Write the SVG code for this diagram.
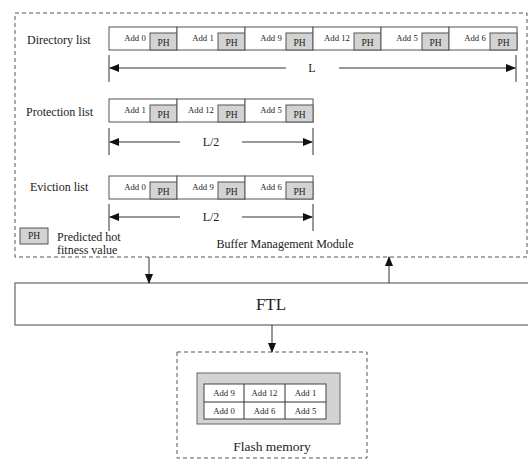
<svg xmlns="http://www.w3.org/2000/svg" width="528" height="459" viewBox="0 0 528 459" font-family="'Liberation Serif','DejaVu Serif',serif">
<style>
text{font-family:'Liberation Serif','DejaVu Serif',serif;fill:#222}
.cell{fill:#fff;stroke:#555;stroke-width:1}
.ph{fill:#d3d3d3;stroke:#555;stroke-width:1}
.t9{font-size:9.5px;text-anchor:middle}
.ad{font-size:8.7px;text-anchor:middle}
.lbl{font-size:12px}
.dash{fill:none;stroke:#555;stroke-width:1;stroke-dasharray:4,3}
.ln{stroke:#333;stroke-width:1;fill:none}
</style>
<defs>
<marker id="ah" markerWidth="10" markerHeight="8" refX="9" refY="4" orient="auto" markerUnits="userSpaceOnUse">
<path d="M0,0 L10,4 L0,8 Z" fill="#111"/>
</marker>
<g id="cellg">
<rect class="cell" x="0" y="0" width="68" height="23"/>
<rect class="ph" x="41" y="6" width="27" height="17"/>
<text class="t9" x="54.5" y="19">PH</text>
</g>
</defs>

<g id="buffer-module">
<rect class="dash" x="15" y="13" width="512" height="244"/>
<text class="lbl" x="285" y="248" text-anchor="middle">Buffer Management Module</text>
</g>

<g id="directory-list">
<text class="lbl" x="27" y="44">Directory list</text>
<use href="#cellg" x="109" y="27"/><text class="ad" x="135" y="41">Add 0</text>
<use href="#cellg" x="177" y="27"/><text class="ad" x="203" y="41">Add 1</text>
<use href="#cellg" x="245" y="27"/><text class="ad" x="271" y="41">Add 9</text>
<use href="#cellg" x="313" y="27"/><text class="ad" x="337" y="41">Add 12</text>
<use href="#cellg" x="381" y="27"/><text class="ad" x="407" y="41">Add 5</text>
<use href="#cellg" x="449" y="27"/><text class="ad" x="475" y="41">Add 6</text>
</g>

<g id="protection-list">
<text class="lbl" x="26" y="116">Protection list</text>
<use href="#cellg" x="109" y="99"/><text class="ad" x="135" y="113">Add 1</text>
<use href="#cellg" x="177" y="99"/><text class="ad" x="201" y="113">Add 12</text>
<use href="#cellg" x="245" y="99"/><text class="ad" x="271" y="113">Add 5</text>
</g>

<g id="eviction-list">
<text class="lbl" x="30" y="191">Eviction list</text>
<use href="#cellg" x="109" y="176"/><text class="ad" x="135" y="190">Add 0</text>
<use href="#cellg" x="177" y="176"/><text class="ad" x="203" y="190">Add 9</text>
<use href="#cellg" x="245" y="176"/><text class="ad" x="271" y="190">Add 6</text>
</g>

<g id="legend">
<rect class="ph" x="20" y="228" width="28" height="16"/>
<text class="t9" x="34" y="239">PH</text>
<text class="lbl" x="57" y="241">Predicted hot</text>
<text class="lbl" x="57" y="254">fitness value</text>
</g>

<g id="ftl">
<rect x="15" y="283" width="520" height="42" fill="#fff" stroke="#666" stroke-width="1.2"/>
<text x="271" y="310" font-size="17" text-anchor="middle">FTL</text>
</g>

<g id="flash-memory">
<rect class="dash" x="177" y="352" width="190" height="106"/>
<rect x="197" y="373" width="143" height="51" fill="#d3d3d3" stroke="#666" stroke-width="1"/>
<rect x="204" y="384" width="122" height="35" fill="#fff" stroke="#444" stroke-width="1"/>
<line class="ln" x1="204" y1="402" x2="326" y2="402"/>
<line class="ln" x1="244" y1="384" x2="244" y2="419"/>
<line class="ln" x1="285" y1="384" x2="285" y2="419"/>
<text class="ad" x="224" y="396">Add 9</text>
<text class="ad" x="264.5" y="396">Add 12</text>
<text class="ad" x="305.5" y="396">Add 1</text>
<text class="ad" x="224" y="414">Add 0</text>
<text class="ad" x="264.5" y="414">Add 6</text>
<text class="ad" x="305.5" y="414">Add 5</text>
<text x="272" y="451" font-size="13.5" text-anchor="middle">Flash memory</text>
</g>

<g id="connectors">
<line class="ln" x1="109" y1="55" x2="109" y2="82"/>
<line class="ln" x1="516" y1="55" x2="516" y2="82"/>
<line class="ln" x1="286" y1="68" x2="110" y2="68" marker-end="url(#ah)"/>
<line class="ln" x1="339" y1="68" x2="515" y2="68" marker-end="url(#ah)"/>
<text class="lbl" x="312" y="72" text-anchor="middle">L</text>
<line class="ln" x1="109" y1="128" x2="109" y2="155"/>
<line class="ln" x1="313" y1="128" x2="313" y2="155"/>
<line class="ln" x1="180" y1="142" x2="110" y2="142" marker-end="url(#ah)"/>
<line class="ln" x1="242" y1="142" x2="312" y2="142" marker-end="url(#ah)"/>
<text class="lbl" x="211" y="146" text-anchor="middle">L/2</text>
<line class="ln" x1="109" y1="204" x2="109" y2="231"/>
<line class="ln" x1="313" y1="204" x2="313" y2="231"/>
<line class="ln" x1="180" y1="217" x2="110" y2="217" marker-end="url(#ah)"/>
<line class="ln" x1="242" y1="217" x2="312" y2="217" marker-end="url(#ah)"/>
<text class="lbl" x="211" y="221" text-anchor="middle">L/2</text>
<line class="ln" x1="149" y1="257" x2="149" y2="283" marker-end="url(#ah)"/>
<line class="ln" x1="389" y1="283" x2="389" y2="257" marker-end="url(#ah)"/>
<line class="ln" x1="272" y1="325" x2="272" y2="352" marker-end="url(#ah)"/>
</g>
</svg>
